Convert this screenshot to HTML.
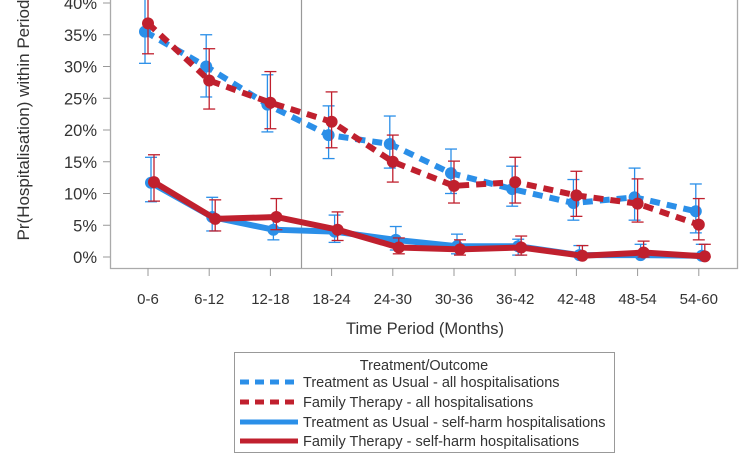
<!DOCTYPE html>
<html><head><meta charset="utf-8"><style>
body{margin:0;background:#fff;width:744px;height:458px;overflow:hidden;font-family:"Liberation Sans",Arial,sans-serif}
svg text{font-family:"Liberation Sans",Arial,sans-serif;fill:#333}
</style></head><body>
<svg id="c" width="744" height="458">
<g id="axes"></g><g id="marks"></g>
<g>
<rect x="234.5" y="352.5" width="380" height="100" fill="#fff" stroke="#999"/>
<text x="424" y="370" font-size="14.5" text-anchor="middle">Treatment/Outcome</text>
<line x1="240" y1="382" x2="298" y2="382" stroke="#2b8fe8" stroke-width="5" stroke-dasharray="9,6"/>
<text x="303" y="387" font-size="14.5">Treatment as Usual - all hospitalisations</text>
<line x1="240" y1="402" x2="298" y2="402" stroke="#c0202e" stroke-width="5" stroke-dasharray="9,6"/>
<text x="303" y="407" font-size="14.5">Family Therapy - all hospitalisations</text>
<line x1="240" y1="422" x2="298" y2="422" stroke="#2b8fe8" stroke-width="5"/>
<text x="303" y="427" font-size="14.5">Treatment as Usual - self-harm hospitalisations</text>
<line x1="240" y1="441" x2="298" y2="441" stroke="#c0202e" stroke-width="5"/>
<text x="303" y="446" font-size="14.5">Family Therapy - self-harm hospitalisations</text>
</g>
</svg>
<script>
const categories=["0-6","6-12","12-18","18-24","24-30","30-36","36-42","42-48","48-54","54-60"];
const yTicks=[0,5,10,15,20,25,30,35,40];
const tauAll=[35.5,30,24,19.2,17.8,13.2,10.7,8.5,9.4,7.2];
const tauAllLo=[30.5,25.2,19.7,15.5,14,10,8,5.8,5.8,3.8];
const tauAllHi=[41,35,28.7,23.8,22.2,17,14.3,12.2,14,11.5];
const ftAll=[36.8,27.8,24.3,21.3,15,11.2,11.8,9.7,8.4,5.1];
const ftAllLo=[32,23.3,20.2,17.2,11.8,8.5,8.5,6.4,5.5,2.7];
const ftAllHi=[43,32.8,29.2,26,19.2,15.1,15.7,13.5,12.3,9.2];
const tauSh=[11.7,6.3,4.3,4,2.7,1.7,1.7,0.3,0.3,0.2];
const tauShLo=[8.7,4.1,2.7,2.3,1.1,0.5,0.3,0,0,0];
const tauShHi=[15.7,9.4,6.6,6.6,4.8,3.6,2.8,1.8,2,2];
const ftSh=[11.8,6,6.3,4.3,1.5,1.2,1.5,0.2,0.7,0.1];
const ftShLo=[8.8,4.1,4.3,2.6,0.5,0.3,0.3,0,0,0];
const ftShHi=[16.1,9,9.2,7.1,3,2.7,3.3,1.8,2.5,2];
const NS="http://www.w3.org/2000/svg";
const X=i=>148+i*61.2, Y=v=>257-v*6.35;
const ax=document.getElementById('axes'), mk=document.getElementById('marks');
function el(t,a,p){const e=document.createElementNS(NS,t);for(const k in a)e.setAttribute(k,a[k]);p.appendChild(e);return e;}
let f=el('path',{d:'M110.5,-5 V268.5 H737.5 V-5',fill:'none',stroke:'#aaa','stroke-width':1.3},ax);


let vl=el('line',{x1:301.5,y1:0,x2:301.5,y2:268,stroke:'#999','stroke-width':1.2},ax);


yTicks.forEach(v=>{el('line',{x1:103,x2:110,y1:Y(v),y2:Y(v),stroke:'#999'},ax);
 const t=el('text',{x:97,y:Y(v)+6,'font-size':16.5,'text-anchor':'end'},ax);t.textContent=v+'%';
 
 });
categories.forEach((c,i)=>{el('line',{x1:X(i),x2:X(i),y1:268,y2:276,stroke:'#999'},ax);
 const t=el('text',{x:X(i),y:304,'font-size':15,'text-anchor':'middle'},ax);t.textContent=c;
 
 });
let xl=el('text',{x:425,y:334,'font-size':16.5,'text-anchor':'middle'},ax);xl.textContent='Time Period (Months)';


let yl=el('text',{x:0,y:0,'font-size':17,'text-anchor':'middle',transform:'translate(29,120) rotate(-90)'},ax);yl.textContent='Pr(Hospitalisation) within Period';


function series(vals,lo,hi,col,off,dash,name){
 const g=el('g',{},mk);
 
 
 vals.forEach((v,i)=>{const x=X(i)+off;
  el('line',{x1:x,x2:x,y1:Y(lo[i]),y2:Y(hi[i]),stroke:col,'stroke-width':1.3},g);
  el('line',{x1:x-6,x2:x+6,y1:Y(lo[i]),y2:Y(lo[i]),stroke:col,'stroke-width':1.3},g);
  el('line',{x1:x-6,x2:x+6,y1:Y(hi[i]),y2:Y(hi[i]),stroke:col,'stroke-width':1.3},g);});
 const a={points:vals.map((v,i)=>(X(i)+off)+','+Y(v)).join(' '),fill:'none',stroke:col,'stroke-width':6};
 if(dash)a['stroke-dasharray']='10,7';
 el('polyline',a,g);
 vals.forEach((v,i)=>{const c=el('circle',{cx:X(i)+off,cy:Y(v),r:6,fill:col},g);
  
  });
}
series(tauAll,tauAllLo,tauAllHi,'#2b8fe8',-3,true,'series-tau-all');
series(ftAll,ftAllLo,ftAllHi,'#c0202e',0,true,'series-ft-all');
series(tauSh,tauShLo,tauShHi,'#2b8fe8',3,false,'series-tau-selfharm');
series(ftSh,ftShLo,ftShHi,'#c0202e',6,false,'series-ft-selfharm');
</script>
</body></html>
